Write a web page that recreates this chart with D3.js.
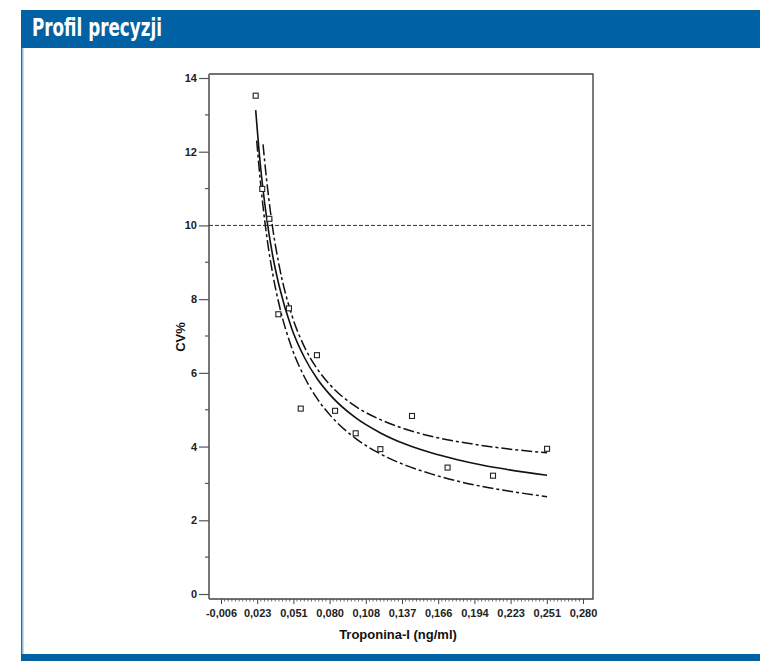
<!DOCTYPE html>
<html><head><meta charset="utf-8">
<script src="https://cdn.jsdelivr.net/npm/d3@7"></script>
<style>
html,body{margin:0;padding:0;background:#fff;}
svg{display:block;}
text{font-family:Arial,"Liberation Sans",Helvetica,sans-serif;}
</style></head>
<body>
<svg id="chart" width="760" height="661"></svg>
<script>
// ---- data ----
const title = "Profil precyzji";
const xLabel = "Troponina-I (ng/ml)";
const yLabel = "CV%";
const xTickLabels = ["-0,006","0,023","0,051","0,080","0,108","0,137","0,166","0,194","0,223","0,251","0,280"];
const yTickValues = [0,2,4,6,8,10,12,14];
const cvLimit = 10;

// measured points (concentration, CV%)
const pointX = [0.0214,0.0266,0.0322,0.0393,0.0477,0.0570,0.0698,0.0841,0.1004,0.1199,0.1449,0.1730,0.2089,0.2516];
const pointY = [13.52,10.99,10.18,7.59,7.75,5.03,6.48,4.97,4.36,3.93,4.83,3.43,3.21,3.94];

// fitted profile (solid)
const fitX = [0.0214,0.025,0.030,0.035,0.040,0.050,0.060,0.070,0.080,0.100,0.120,0.140,0.160,0.180,0.200,0.220,0.2516];
const fitY = [13.13,11.68,10.22,9.15,8.35,7.19,6.41,5.84,5.41,4.79,4.37,4.06,3.83,3.65,3.50,3.38,3.22];
// upper confidence limit
const upX = [0.0272,0.030,0.035,0.040,0.050,0.060,0.070,0.080,0.100,0.120,0.140,0.160,0.180,0.200,0.220,0.2516];
const upY = [12.20,11.25,9.89,8.90,7.56,6.70,6.11,5.68,5.10,4.73,4.47,4.28,4.14,4.03,3.94,3.83];
// lower confidence limit
const loX = [0.0222,0.025,0.030,0.035,0.040,0.050,0.060,0.070,0.080,0.100,0.120,0.140,0.160,0.180,0.200,0.220,0.2516];
const loY = [12.30,11.23,9.74,8.66,7.84,6.67,5.88,5.30,4.86,4.23,3.80,3.49,3.26,3.07,2.92,2.80,2.64];

// ---- layout ----
const svg = d3.select("#chart");
const blue = "#0061a4";
const frame = {left:209, top:74, right:593, bottom:599};
const xMin = -0.006, xMax = 0.280;
const x = d3.scaleLinear().domain([xMin, xMax]).range([221, 583]);
const y = d3.scaleLinear().domain([0, 14]).range([594, 78]);
const xTickValues = xTickLabels.map((d,i) => xMin + i*(xMax-xMin)/(xTickLabels.length-1));

// header and borders
svg.append("rect").attr("x",21).attr("y",10).attr("width",739).attr("height",38).attr("fill",blue);
svg.append("rect").attr("x",21).attr("y",48).attr("width",1.5).attr("height",606).attr("fill","#1f6fb2");
svg.append("rect").attr("x",22.5).attr("y",48).attr("width",1).attr("height",606).attr("fill","#8db8e0");
svg.append("rect").attr("x",21).attr("y",654).attr("width",739).attr("height",7).attr("fill",blue);
svg.append("text").attr("x",32).attr("y",36).attr("fill","#fff")
  .attr("font-size",25).attr("font-weight","bold")
  .style("font-family","'Liberation Sans Narrow','DejaVu Sans Condensed','Arial Narrow',sans-serif")
  .attr("textLength",130).attr("lengthAdjust","spacingAndGlyphs")
  .text(title);

// frame
const g = svg.append("g");
g.append("path")
  .attr("d",`M${frame.left},${frame.top}H${frame.right}V${frame.bottom}H${frame.left}`)
  .attr("fill","none").attr("stroke","#444").attr("stroke-width",1.4);
g.append("line").attr("x1",frame.left).attr("x2",frame.left).attr("y1",frame.top).attr("y2",frame.bottom)
  .attr("stroke","#777").attr("stroke-width",2);

// y axis
const yAxis = d3.axisLeft(y).tickValues(yTickValues).tickSize(10).tickPadding(2).tickFormat(d3.format("d"));
const ya = svg.append("g").attr("transform",`translate(${frame.left},0)`).call(yAxis);
ya.select(".domain").remove();
ya.selectAll(".tick line").attr("stroke","#555").attr("stroke-width",1.2);
ya.selectAll(".tick text").attr("font-size",11).attr("font-weight","bold").attr("fill","#222")
  .style("font-family","Arial,'Liberation Sans',sans-serif");
// y minor ticks
const yMinor = d3.range(1, 14, 2);
svg.append("g").selectAll("line").data(yMinor).join("line")
  .attr("x1",frame.left-4).attr("x2",frame.left).attr("y1",d=>y(d)).attr("y2",d=>y(d))
  .attr("stroke","#555").attr("stroke-width",1.2);

// x axis
const xAxis = d3.axisBottom(x).tickValues(xTickValues).tickSize(5).tickPadding(5)
  .tickFormat((d,i)=>xTickLabels[i]);
const xa = svg.append("g").attr("transform",`translate(0,${frame.bottom})`).call(xAxis);
xa.select(".domain").remove();
xa.selectAll(".tick line").attr("stroke","#444").attr("stroke-width",1);
xa.selectAll(".tick text").attr("font-size",11).attr("font-weight","bold").attr("fill","#222")
  .style("font-family","Arial,'Liberation Sans',sans-serif");
// x minor ticks
const xMinor = [];
for (let i=0;i<xTickValues.length-1;i++){
  for (let j=1;j<10;j++) xMinor.push(xTickValues[i] + j*(xTickValues[i+1]-xTickValues[i])/10);
}
svg.append("g").selectAll("line").data(xMinor).join("line")
  .attr("x1",d=>x(d)).attr("x2",d=>x(d)).attr("y1",frame.bottom).attr("y2",frame.bottom+2.5)
  .attr("stroke","#444").attr("stroke-width",0.8);

// axis titles
svg.append("text").attr("x",398).attr("y",639).attr("text-anchor","middle")
  .attr("font-size",13).attr("font-weight","bold").attr("fill","#111").text(xLabel);
svg.append("text").attr("transform","translate(185,337) rotate(-90)").attr("text-anchor","middle")
  .attr("font-size",13).attr("font-weight","bold").attr("fill","#111").text(yLabel);

// 10% limit line
svg.append("line").attr("x1",frame.left).attr("x2",frame.right).attr("y1",y(cvLimit)).attr("y2",y(cvLimit))
  .attr("stroke","#333").attr("stroke-width",1).attr("stroke-dasharray","4,2");

// curves
const line = d3.line().x(d=>x(d[0])).y(d=>y(d[1])).curve(d3.curveMonotoneX);
svg.append("path").attr("d",line(d3.zip(upX,upY))).attr("fill","none")
  .attr("stroke","#111").attr("stroke-width",1.5).attr("stroke-dasharray","11,3,3,3");
svg.append("path").attr("d",line(d3.zip(loX,loY))).attr("fill","none")
  .attr("stroke","#111").attr("stroke-width",1.5).attr("stroke-dasharray","11,3,3,3");
svg.append("path").attr("d",line(d3.zip(fitX,fitY))).attr("fill","none")
  .attr("stroke","#111").attr("stroke-width",1.6);

// points
svg.append("g").selectAll("rect").data(d3.zip(pointX,pointY)).join("rect")
  .attr("x",d=>x(d[0])-2.5).attr("y",d=>y(d[1])-2.5).attr("width",5).attr("height",5)
  .attr("fill","#fff").attr("stroke","#222").attr("stroke-width",1.1);
</script>
</body></html>
